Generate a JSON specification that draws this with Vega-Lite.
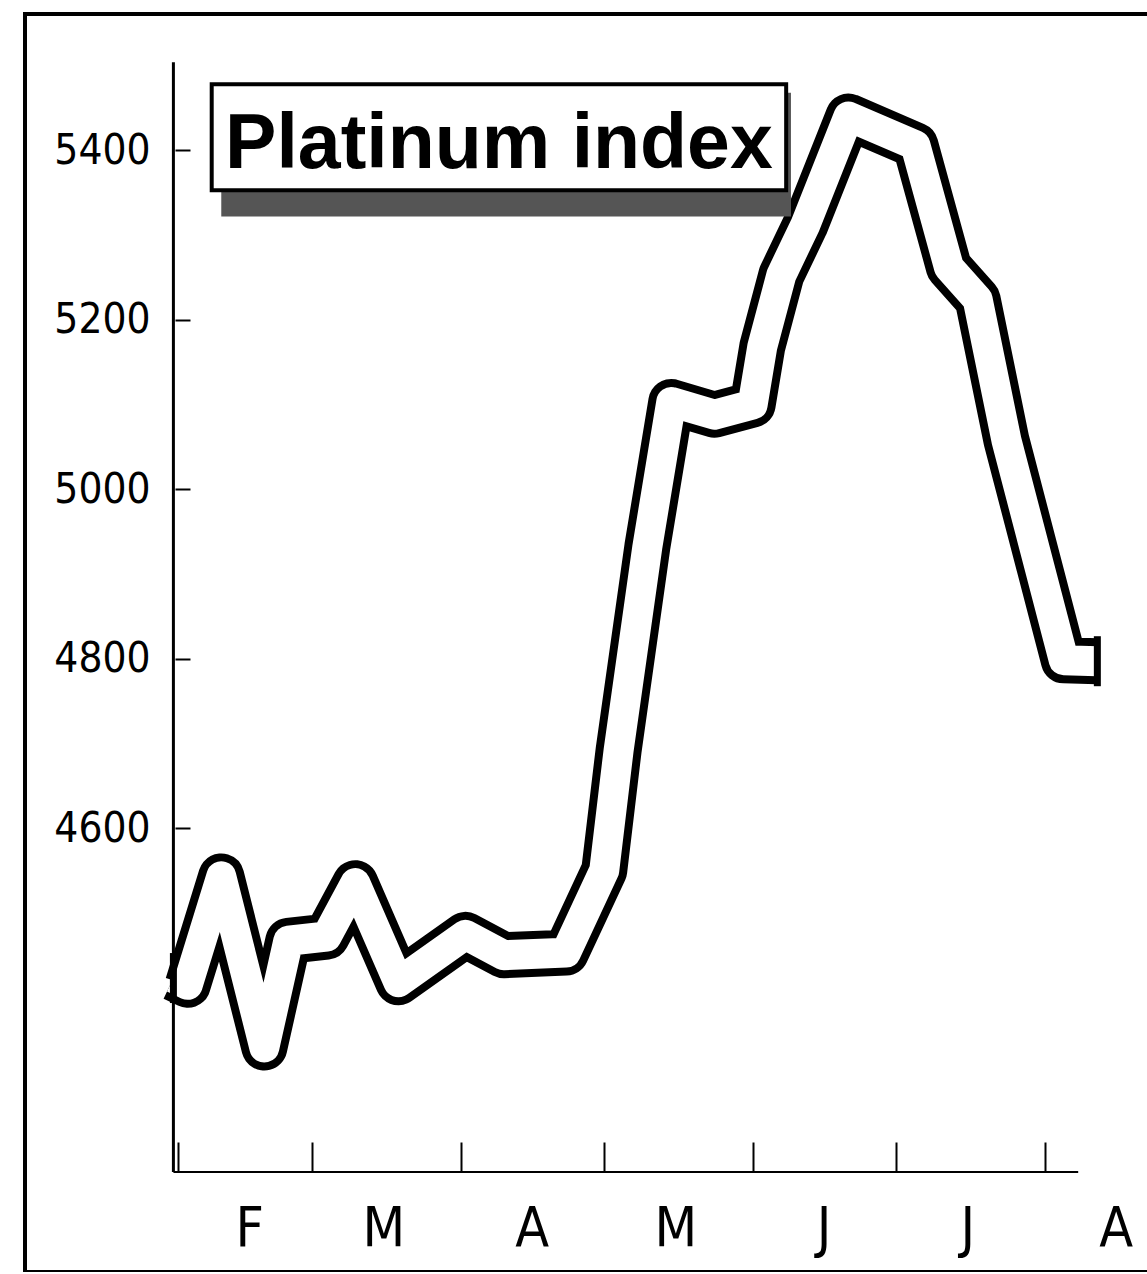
{
  "$schema": "https://vega.github.io/schema/vega-lite/v6.json",
  "width": 1125,
  "height": 1258,
  "autosize": {"type": "none"},
  "padding": {"left": 25, "top": 14, "right": 0, "bottom": 0},
  "background": "white",
  "config": {"view": {"stroke": "black", "strokeWidth": 4}},
  "data": {"values": [
    {"date": "1987-01-31", "index": 4423},
    {"date": "1987-02-03", "index": 4415},
    {"date": "1987-02-10", "index": 4543},
    {"date": "1987-02-19", "index": 4341},
    {"date": "1987-02-24", "index": 4467},
    {"date": "1987-03-04", "index": 4472},
    {"date": "1987-03-10", "index": 4535},
    {"date": "1987-03-19", "index": 4418},
    {"date": "1987-04-02", "index": 4474},
    {"date": "1987-04-10", "index": 4450},
    {"date": "1987-04-23", "index": 4453},
    {"date": "1987-05-01", "index": 4550},
    {"date": "1987-05-04", "index": 4692},
    {"date": "1987-05-10", "index": 4932},
    {"date": "1987-05-15", "index": 5103},
    {"date": "1987-05-24", "index": 5088},
    {"date": "1987-06-01", "index": 5100},
    {"date": "1987-06-03", "index": 5168},
    {"date": "1987-06-07", "index": 5253},
    {"date": "1987-06-12", "index": 5312},
    {"date": "1987-06-21", "index": 5440},
    {"date": "1987-07-05", "index": 5406},
    {"date": "1987-07-12", "index": 5262},
    {"date": "1987-07-18", "index": 5224},
    {"date": "1987-07-24", "index": 5058},
    {"date": "1987-08-05", "index": 4798},
    {"date": "1987-08-12", "index": 4797}
  ]},
  "layer": [
    {
      "mark": {"type": "line", "color": "black", "strokeWidth": 46, "strokeJoin": "round", "strokeCap": "butt"},
      "encoding": {
        "x": {
          "field": "date", "type": "temporal",
          "scale": {"type": "utc", "domain": [{"year": 1986, "month": 12, "date": 31, "utc": true}, {"year": 1987, "month": 8, "date": 23, "utc": true}]},
          "axis": {
            "title": null, "grid": false, "domain": false, "offset": -100,
            "values": [
              {"year": 1987, "month": 2, "date": 1, "utc": true},
              {"year": 1987, "month": 3, "date": 1, "utc": true},
              {"year": 1987, "month": 4, "date": 1, "utc": true},
              {"year": 1987, "month": 5, "date": 1, "utc": true},
              {"year": 1987, "month": 6, "date": 1, "utc": true},
              {"year": 1987, "month": 7, "date": 1, "utc": true},
              {"year": 1987, "month": 8, "date": 1, "utc": true}
            ],
            "labelExpr": "slice(utcFormat(datum.value, '%b'), 0, 1)",
            "tickSize": -30, "tickWidth": 2, "tickColor": "black",
            "labelOffset": 71, "labelPadding": 103, "labelBaseline": "alphabetic",
            "labelFont": "Liberation Sans Narrow, DejaVu Sans Condensed, Liberation Sans",
            "labelFontSize": 55, "labelColor": "black", "labelFlush": false, "labelOverlap": false
          }
        },
        "y": {
          "field": "index", "type": "quantitative",
          "scale": {"domain": [4076, 5561], "nice": false, "zero": false},
          "axis": {
            "title": null, "grid": false, "domain": false, "offset": -150,
            "values": [4600, 4800, 5000, 5200, 5400],
            "format": "d",
            "tickSize": -15, "tickWidth": 2, "tickColor": "black",
            "labelPadding": 40, "labelBaseline": "middle",
            "labelFont": "Liberation Sans Narrow, DejaVu Sans Condensed, Liberation Sans",
            "labelFontSize": 42, "labelColor": "black", "labelFlush": false, "labelOverlap": false
          }
        }
      }
    },
    {
      "mark": {"type": "line", "color": "white", "strokeWidth": 30, "strokeJoin": "round", "strokeCap": "butt"},
      "encoding": {
        "x": {"field": "date", "type": "temporal"},
        "y": {"field": "index", "type": "quantitative"}
      }
    },
    {
      "transform": [
        {"window": [{"op": "row_number", "as": "rn"}]},
        {"joinaggregate": [{"op": "count", "as": "n"}]},
        {"filter": "datum.rn == 1 || datum.rn == datum.n"}
      ],
      "mark": {"type": "tick", "orient": "vertical", "color": "black", "size": 50, "thickness": 7, "opacity": 1},
      "encoding": {
        "x": {"field": "date", "type": "temporal"},
        "y": {"field": "index", "type": "quantitative"}
      }
    },
    {
      "data": {"values": [{}]},
      "mark": {"type": "rule", "color": "black", "strokeWidth": 3},
      "encoding": {
        "x": {"datum": {"year": 1987, "month": 1, "date": 31, "utc": true}, "type": "temporal"},
        "y": {"datum": 5504, "type": "quantitative"},
        "y2": {"datum": 4194}
      }
    },
    {
      "data": {"values": [{}]},
      "mark": {"type": "rule", "color": "black", "strokeWidth": 2},
      "encoding": {
        "x": {"datum": {"year": 1987, "month": 1, "date": 31, "utc": true}, "type": "temporal"},
        "x2": {"datum": {"year": 1987, "month": 8, "date": 8, "utc": true}},
        "y": {"datum": 4194, "type": "quantitative"}
      }
    },
    {
      "data": {"values": [{}]},
      "mark": {"type": "rect", "color": "#555555"},
      "encoding": {
        "x": {"datum": {"year": 1987, "month": 2, "date": 10, "utc": true}, "type": "temporal"},
        "x2": {"datum": {"year": 1987, "month": 6, "date": 9, "utc": true}},
        "y": {"datum": 5468, "type": "quantitative"},
        "y2": {"datum": 5322}
      }
    },
    {
      "data": {"values": [{}]},
      "mark": {"type": "rect", "fill": "white", "stroke": "black", "strokeWidth": 4},
      "encoding": {
        "x": {"datum": {"year": 1987, "month": 2, "date": 8, "utc": true}, "type": "temporal"},
        "x2": {"datum": {"year": 1987, "month": 6, "date": 8, "utc": true}},
        "y": {"datum": 5478, "type": "quantitative"},
        "y2": {"datum": 5353}
      }
    },
    {
      "data": {"values": [{}]},
      "mark": {"type": "text", "text": "Platinum index", "font": "Liberation Sans, Arial", "fontWeight": "bold", "fontSize": 77, "align": "center", "baseline": "alphabetic", "color": "black"},
      "encoding": {
        "x": {"datum": {"year": 1987, "month": 4, "date": 9, "utc": true}, "type": "temporal"},
        "y": {"datum": 5379, "type": "quantitative"}
      }
    }
  ]
}
